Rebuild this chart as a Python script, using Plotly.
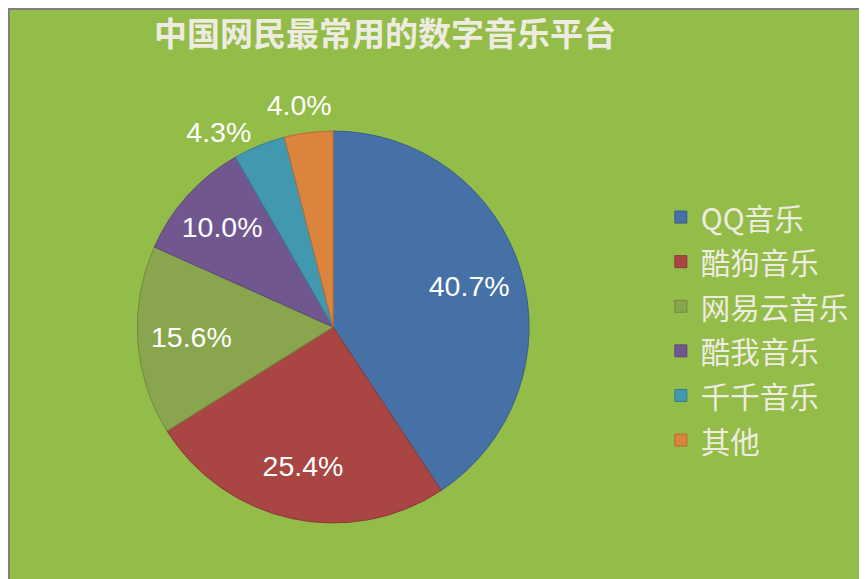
import plotly.graph_objects as go

labels = ["QQ音乐", "酷狗音乐", "网易云音乐", "酷我音乐", "千千音乐", "其他"]
values = [40.7, 25.4, 15.6, 10.0, 4.3, 4.0]
colors = ["#4571A6", "#A94543", "#89A54E", "#71578F", "#4198AF", "#DB843D"]
edge_colors = ["#3A5F8C", "#8C3937", "#728A41", "#5E4977", "#367F92", "#B86E33"]
text_pos = ["inside", "inside", "inside", "inside", "outside", "outside"]
# which label layer each data label is drawn in (0 = main ring, 1 = separate layer)
label_layer = [0, 0, 0, 0, 0, 1]

legend_labels = ['<span style="font-size:29.5px">%s</span>' % s for s in labels]

pie_domain = dict(x=[0.149, 0.601], y=[0.1105, 0.7875])
# the small "其他" label sits a little to the right/up of its default outside spot
layer_domains = [pie_domain, dict(x=[0.1848, 0.6368], y=[0.1312, 0.8082])]
label_font = dict(family="Liberation Sans, Arial", size=28.5, color="#FFFFFF")

fig = go.Figure()
# visible slices
fig.add_trace(go.Pie(
    labels=legend_labels,
    values=values,
    sort=False,
    direction="clockwise",
    rotation=0,
    marker=dict(colors=colors, line=dict(color=edge_colors, width=1)),
    textinfo="none",
    domain=pie_domain,
    hoverinfo="skip",
))
# transparent rings carrying the data labels (places them at ~3/4 radius)
for layer in (0, 1):
    fig.add_trace(go.Pie(
        labels=legend_labels,
        values=values,
        sort=False,
        direction="clockwise",
        rotation=0,
        hole=0.45,
        showlegend=False,
        marker=dict(colors=["rgba(0,0,0,0)"] * len(values), line=dict(width=0)),
        texttemplate=["%{value:.1f}%" if l == layer else "" for l in label_layer],
        textposition=text_pos,
        insidetextorientation="horizontal",
        textfont=label_font,
        outsidetextfont=label_font,
        domain=layer_domains[layer],
        hoverinfo="skip",
    ))

fig.update_layout(
    width=867, height=579,
    paper_bgcolor="#93BC48",
    plot_bgcolor="#93BC48",
    margin=dict(l=0, r=0, t=0, b=0),
    title=dict(
        text="<b>中国网民最常用的数字音乐平台</b>",
        x=377 / 867, xanchor="center",
        y=1 - 26 / 579, yanchor="middle",
        font=dict(family="Noto Sans CJK SC", size=33, color="#EEECE1"),
    ),
    legend=dict(
        x=0.753, xanchor="left", y=0.446, yanchor="middle",
        font=dict(family="Noto Sans CJK SC", size=32, color="#EEECE1"),
        bgcolor="rgba(0,0,0,0)",
    ),
    shapes=[dict(type="rect", xref="paper", yref="paper", x0=0, y0=0, x1=1, y1=1,
                 line=dict(color="#7F7F7F", width=4))],
)

fig.write_html("out.html")
